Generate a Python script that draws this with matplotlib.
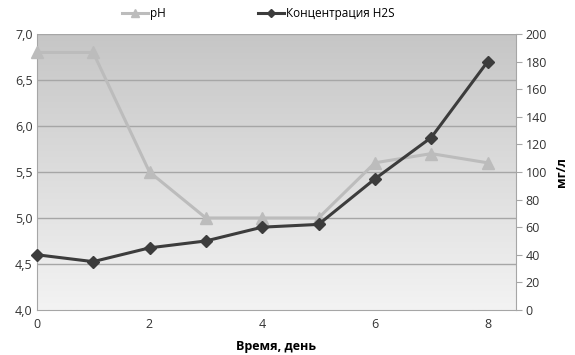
import numpy as np
import matplotlib
matplotlib.use('Agg')
from matplotlib import pyplot as plt

plt.rcParams['font.family'] = ['Open Sans', 'DejaVu Sans']

days = [0, 1, 2, 3, 4, 5, 6, 7, 8]
ph = [6.8, 6.8, 5.5, 5.0, 5.0, 5.0, 5.6, 5.7, 5.6]
h2s = [40, 35, 45, 50, 60, 62, 95, 125, 180]
ph_ticks = [4.0, 4.5, 5.0, 5.5, 6.0, 6.5, 7.0]
ph_labels = ['4,0', '4,5', '5,0', '5,5', '6,0', '6,5', '7,0']
h2s_ticks = [0, 20, 40, 60, 80, 100, 120, 140, 160, 180, 200]

fig = plt.figure(figsize=(5.75, 3.55), dpi=100)
ax = fig.add_axes([0.064, 0.127, 0.833, 0.777])
ax2 = ax.twinx()

ax.set_xlim(0, 8.5)
ax.set_ylim(4.0, 7.0)
ax2.set_ylim(0, 200)

# background gradient, dark at top
grad = np.linspace(0, 1, 256).reshape(-1, 1)
ax.imshow(grad, extent=[0, 8.5, 4.0, 7.0], aspect='auto', origin='upper',
          cmap=matplotlib.colors.LinearSegmentedColormap.from_list('g', ['#c6c6c6', '#f3f3f3']),
          zorder=0)

for t in ph_ticks[1:]:
    ax.axhline(t, color='#a6a6a6', lw=1, zorder=1)

l1, = ax.plot(days, ph, color='#bcbcbc', lw=2.2, marker='^', ms=8, zorder=3, label='pH',
              clip_on=False)
l2, = ax2.plot(days, h2s, color='#3c3c3c', lw=2.2, marker='D', ms=6, zorder=4,
               label='Концентрация H2S', clip_on=False)

ax.set_xticks([0, 2, 4, 6, 8])
ax.set_yticks(ph_ticks)
ax.set_yticklabels(ph_labels)
ax2.set_yticks(h2s_ticks)

for a in (ax, ax2):
    for s in a.spines.values():
        s.set_visible(False)
ax.spines['left'].set_visible(True)
ax.spines['left'].set_color('#a6a6a6')
ax.spines['bottom'].set_visible(True)
ax.spines['bottom'].set_color('#a6a6a6')
ax2.spines['right'].set_visible(True)
ax2.spines['right'].set_color('#a6a6a6')

ax.tick_params(axis='x', length=0, labelsize=9, colors='#333333', pad=6)
ax.tick_params(axis='y', length=0, labelsize=9, colors='#333333', pad=3)
ax2.tick_params(axis='y', length=4, color='#a6a6a6', labelsize=9, colors='#333333', pad=3)
ax2.tick_params(axis='y', color='#a6a6a6')

ax.set_xlabel('Время, день', fontsize=9, fontweight='bold', labelpad=6)
ax2.set_ylabel('мг/л', fontsize=9, fontweight='bold', labelpad=6)

fig.legend(handles=[l1, l2], loc='upper center', bbox_to_anchor=(0.449, 1.01), ncol=2,
           frameon=False, fontsize=8.5, columnspacing=7.8, handlelength=2.2, handletextpad=0.15,
           markerscale=0.7)

fig.savefig('out.png', dpi=100)
